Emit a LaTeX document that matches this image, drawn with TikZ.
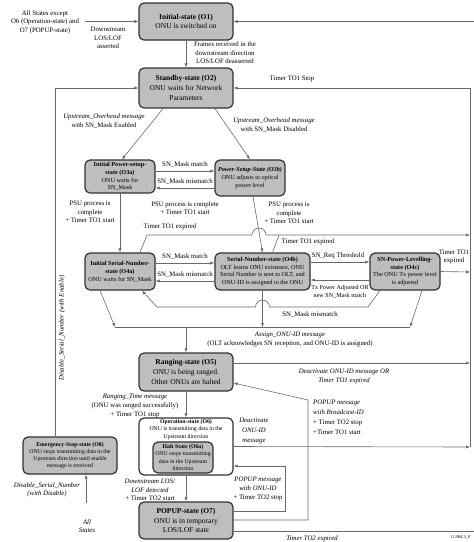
\documentclass[tikz,border=0pt]{standalone}
\usepackage{fontspec}
\setmainfont{Liberation Serif}
\usetikzlibrary{arrows.meta,calc}
\definecolor{boxgray}{RGB}{190,190,190}
\definecolor{linegray}{RGB}{105,105,105}
\definecolor{edgegray}{RGB}{50,50,50}
\newcommand{\bigf}{\fontsize{7.5}{9.8}\selectfont}
\newcommand{\smallf}{\fontsize{6.2}{7.8}\selectfont}
\newcommand{\tinyf}{\fontsize{5.8}{7.2}\selectfont}
\newcommand{\lblf}{\fontsize{6.8}{8.6}\selectfont}
\begin{document}
\begin{tikzpicture}[x=1pt,y=-1pt,
  st/.style={draw=edgegray, line width=1.2pt, rounded corners=5pt, fill=boxgray, align=center, inner sep=0pt},
  ln/.style={draw=linegray, line width=0.6pt},
  ar/.style={ln, -{Latex[length=4pt,width=3.2pt]}},
  lb/.style={align=center, inner sep=0pt, font=\lblf}]
\useasboundingbox (0,0) rectangle (474,542);

% ---------- states ----------
\node[st, minimum width=94pt, minimum height=37pt, font=\bigf] (o1) at (186,21.5) {\textbf{Initial-state (O1)}\\ONU is switched on};
\node[st, minimum width=94pt, minimum height=40pt, font=\bigf] (o2) at (186,88) {\textbf{Standby-state (O2)}\\ONU waits for Network\\Parameters};
\node[st, minimum width=70pt, minimum height=33pt, font=\smallf] (o3a) at (120,176.5) {\textbf{Initial Power-setup-}\\\textbf{state (O3a)}\\ONU waits for\\SN\_Mask};
\node[st, minimum width=70pt, minimum height=36pt, font=\smallf] (o3b) at (250,178) {\textbf{\textit{Power-Setup-State (O3b)}}\\ONU adjusts to optical\\power level};
\node[st, minimum width=70pt, minimum height=37pt, font=\smallf] (o4a) at (120,271.5) {\textbf{Initial Serial-Number-}\\\textbf{state (O4a)}\\ONU waits for SN\_Mask};
\node[st, minimum width=95pt, minimum height=37pt, font=\smallf] (o4b) at (262.5,271.5) {\textbf{Serial-Number-state (O4b)}\\OLT learns ONU existence, ONU\\Serial Number is sent to OLT, and\\ONU-ID is assigned to the ONU};
\node[st, minimum width=70pt, minimum height=37pt, font=\smallf] (o4c) at (405,271.5) {\textbf{SN-Power-Levelling-}\\\textbf{state (O4c)}\\The ONU Tx power level\\is adjusted};
\node[st, minimum width=94pt, minimum height=38pt, font=\bigf] (o5) at (186,372) {\textbf{Ranging-state (O5)}\\ONU is being ranged.\\Other ONUs are halted};
\node[st, fill=white, minimum width=94pt, minimum height=57pt] (o6) at (186,446.5) {};
\node[align=center, inner sep=0pt, font=\tinyf] (o6t) at (186,429.5) {\textbf{Operation-state (O6)}\\ONU is transmitting data in the\\Upstream direction};
\node[st, minimum width=60pt, minimum height=31pt, font=\tinyf] (o6a) at (183,457.5) {\textbf{Halt State (O6a)}\\ONU stops transmitting\\data in the Upstream\\direction};
\node[st, minimum width=94pt, minimum height=37pt, font=\bigf] (o7) at (186,520.5) {\textbf{POPUP-state (O7)}\\ONU is in temporary\\LOS/LOF state};
\node[st, minimum width=94pt, minimum height=37pt, font=\tinyf] (o8) at (70,455.5) {\textbf{Emergency-Stop-state (O8)}\\ONU stops transmitting data in the\\Upstream direction until enable\\message is received};

% ---------- top ----------
\coordinate (allL) at (85,21.5);
\node[lb] (tAll) at (45,22) {All States except\\O6 (Operation-state) and\\O7 (POPUP-state)};
\draw[ar] (allL) -- (o1.west);
\node[lb] (tDL) at (108,38) {Downstream\\LOS/LOF\\asserted};
\coordinate (rTop) at (474,21.5);
\draw[ar] (rTop) -- (o1.east);
\draw[ar] (o1) -- (o2);
\node[lb] (tFr) at (225,53) {Frames received in the\\downstream direction\\LOS/LOF deasserted};

% right bus
\coordinate (rb1) at (470,88);
\coordinate (rb2) at (470,447);
\draw[ar] (rb2) -- (rb1) -- (o2.east);
\node[lb] (tStop) at (292,79) {Timer TO1 Stop};

% left bus
\coordinate (lb1) at (55,88);
\draw[ar] ([xshift=-15pt]o8.north) -- (lb1) -- (o2.west);
\node[lb, rotate=90, font=\lblf\itshape] (tEn) at (62,328) {Disable\_Serial\_Number (with Enable)};

% O2 -> O3
\draw[ar] ([xshift=-23pt]o2.south) -- ([xshift=2pt]o3a.north);
\node[lb] (tUE) at (104,121) {\textit{Upstream\_Overhead message}\\with SN\_Mask Enabled};
\draw[ar] ([xshift=29pt]o2.south) -- (o3b.north);
\node[lb] (tUD) at (274,125) {\textit{Upstream\_Overhead message}\\with SN\_Mask Disabled};

% O3a <-> O3b
\draw[ar] ([yshift=5.5pt]o3a.east) -- ([yshift=5.5pt]o3a.east -| o3b.west);
\node[lb] (tM1) at (185,165) {SN\_Mask match};
\draw[ar] ([yshift=-11.5pt]o3a.east -| o3b.west) -- ([yshift=-11.5pt]o3a.east);
\node[lb] (tMm1) at (185,182) {SN\_Mask mismatch};

% O3 -> O4
\draw[ar] (o3a) -- (o4a);
\node[lb] (tP1) at (90,212) {PSU process is\\complete\\+ Timer TO1 start};
\node[lb] (tP2) at (185,208) {PSU process is complete\\+ Timer TO1 start};
\draw[ar] ([xshift=3pt]o3b.south) -- (o4b.north);
\node[lb] (tP3) at (289,213) {PSU process is\\complete\\+ Timer TO1 start};

% Timer TO1 expired line
\coordinate (t1a) at (147,235);
\coordinate (hopA) at (252,235);
\coordinate (rbT1) at (470,235);
\coordinate (t1b) at (279,235);
\draw[ar] ([xshift=20pt]o4a.north) -- (t1a) -- (hopA) arc[start angle=180,end angle=0,radius=7pt] -- (rbT1);
\node[lb] (tE1) at (170,227) {Timer TO1 expired};
\draw[ln] ([xshift=10pt]o4b.north) -- (t1b);
\node[lb] (tE2) at (308,242) {Timer TO1 expired};

% O4a <-> O4b
\draw[ar] ([yshift=8.5pt]o4a.east) -- ([yshift=8.5pt]o4a.east -| o4b.west);
\node[lb] (tM2) at (185,257) {SN\_Mask match};
\draw[ar] ([yshift=-9.5pt]o4a.east -| o4b.west) -- ([yshift=-9.5pt]o4a.east);
\node[lb] (tMm2) at (185,275) {SN\_Mask mismatch};

% O4b <-> O4c
\draw[ar] ([yshift=9.5pt]o4b.east) -- ([yshift=9.5pt]o4b.east -| o4c.west);
\node[lb] (tReq) at (338,256) {SN\_Req Threshold};
\draw[ar] ([yshift=-8.5pt]o4b.east -| o4c.west) -- ([yshift=-8.5pt]o4b.east);
\node[lb, font=\fontsize{6.1}{8.2}\selectfont] (tTx) at (340,292) {Tx Power Adjusted OR\\new SN\_Mask match};
\coordinate (rbT2) at (470,272);
\draw[ar] (o4c.east) -- (rbT2);
\node[lb] (tE3) at (454,257) {Timer TO1\\expired};

% SN_Mask mismatch from O4c to O4a
\coordinate (m1) at (368,307);
\coordinate (m2) at (269.5,307);
\coordinate (m3) at (157,307);
\draw[ar] ([xshift=-25pt]o4c.south) -- (m1) -- (m2) arc[start angle=0,end angle=180,radius=7pt] -- (m3) -- ([xshift=22pt]o4a.south);
\node[lb] (tMm3) at (310,315) {SN\_Mask mismatch};

% Assign bus
\coordinate (bL) at (115,327);
\coordinate (bR) at (410,327);
\coordinate (bM) at (186,327);
\coordinate (bB) at (262.5,327);
\draw[ln] (bL) -- (bR);
\draw[ar] ([xshift=-20pt]o4a.south) -- (bL);
\draw[ar] (o4b.south) -- (bB);
\draw[ar] ([xshift=17pt]o4c.south) -- (bR);
\draw[ar] (bM) -- (o5.north);
\node[lb, font=\fontsize{6.8}{9}\selectfont] (tAs) at (290,339.5) {\textit{Assign\_ONU-ID message}\\(OLT acknowledges SN reception, and ONU-ID is assigned)};

% O5
\coordinate (rbO5) at (470,363);
\draw[ar] ([yshift=9pt]o5.east) -- (rbO5);
\node[lb, font=\lblf\itshape] (tDe1) at (344,376.5) {Deactivate ONU-ID message OR\\Timer TO1 expired};
\draw[ar] (o5) -- (o6);
\node[lb] (tRa) at (135,406) {\textit{Ranging\_Time message}\\(ONU was ranged successfully)\\+ Timer TO1 stop};

% O6
\draw[ar] (o6.east) -- (rb2);
\node[lb, font=\fontsize{6.8}{10}\selectfont\itshape] (tDe2) at (254,431) {Deactivate\\ONU-ID\\message};

% O7 -> O5
\coordinate (p1) at (308,520);
\coordinate (p2) at (308,400);
\draw[ar] ([yshift=0.5pt]o7.east) -- (p1) -- (p2) -- ([yshift=-11pt]o5.east);
\node[lb, align=left, anchor=west, font=\fontsize{6.8}{10}\selectfont] (tPb) at (313,417) {\textit{POPUP message}\\\textit{with Broadcast-ID}\\+ Timer TO2 stop\\+Timer TO1 start};

% O7 -> O6
\coordinate (q1) at (285,511);
\coordinate (q2) at (285,466);
\draw[ar] ([yshift=9.5pt]o7.east) -- (q1) -- (q2) -- ([yshift=-19.5pt]o6.east);
\node[lb] (tPo) at (258,489) {\textit{POPUP message}\\\textit{with ONU-ID}\\+ Timer TO2 stop};

% O6 -> O7
\draw[ar] (o6) -- (o7);
\node[lb] (tDs) at (150,490) {\textit{Downstream LOS/}\\\textit{LOF detected}\\+ Timer TO2 start};

% Timer TO2 expired
\coordinate (rBot) at (474,531);
\draw[ln] ([yshift=-10.5pt]o7.east) -- (rBot);
\node[lb, font=\lblf\itshape] (tT2) at (312,539) {Timer TO2 expired};

% O8
\coordinate (allS) at (86,503);
\draw[ar] (allS) -- (allS |- o8.south);
\node[lb, font=\lblf\itshape] (tAS) at (87,526) {All\\States};
\node[lb, font=\lblf\itshape] (tDis) at (47,490) {Disable\_Serial\_Number\\(with Disable)};

\node[inner sep=0pt, font=\fontsize{4.5}{5}\selectfont] (fig) at (461,537) {G.984.3\_F};
\end{tikzpicture}
\end{document}
